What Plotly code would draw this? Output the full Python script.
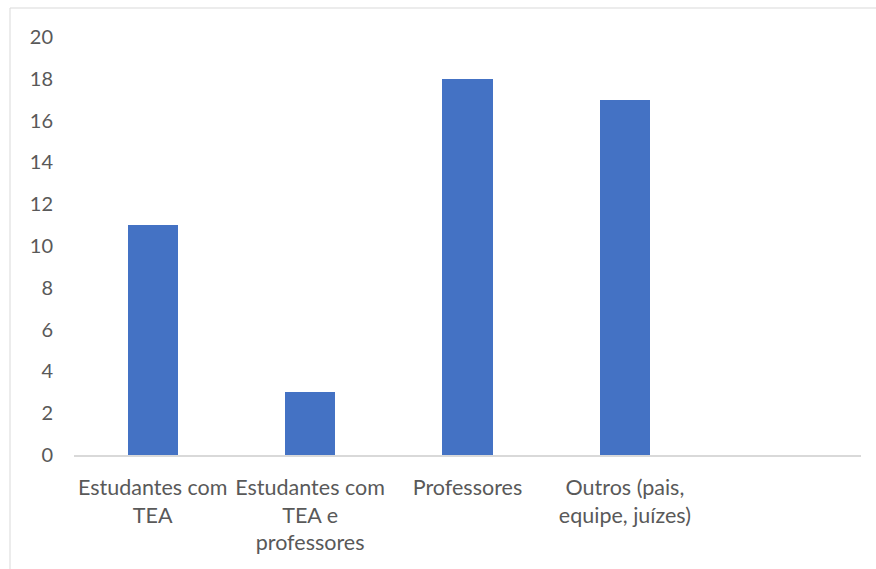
import plotly.graph_objects as go

categories = ["Estudantes com<br>TEA", "Estudantes com<br>TEA e<br>professores", "Professores", "Outros (pais,<br>equipe, juízes)"]
values = [11, 3, 18, 17]
y_ticks = [0, 2, 4, 6, 8, 10, 12, 14, 16, 18, 20]

W, H = 876, 569
L, R, T, B = 74, 15, 37, 114
pw, ph = W - L - R, H - T - B

fig = go.Figure(go.Bar(x=categories, y=values, marker=dict(color="#4472C4", line=dict(width=0)), width=0.32))

font = dict(family="Lato, Open Sans, sans-serif", size=20, color="#595959")
xfont = dict(family="Lato, Open Sans, sans-serif", size=21.5, color="#595959")
fig.update_layout(
    width=W, height=H,
    margin=dict(l=L, r=R, t=T, b=B),
    paper_bgcolor="white", plot_bgcolor="white",
    font=font, showlegend=False, bargap=0,
    xaxis=dict(type="category", range=[-0.5, 4.5], showgrid=False, showline=True,
               linecolor="#d9d9d9", linewidth=1.5, ticks="", ticklabelstandoff=12,
               tickfont=xfont, fixedrange=True),
    yaxis=dict(range=[0, 20], tickvals=y_ticks, showgrid=False, showline=False,
               zeroline=False, ticks="", ticklabelstandoff=20, tickfont=font, fixedrange=True),
    shapes=[dict(type="rect", xref="paper", yref="paper",
                 x0=(10 - L) / pw, x1=(W + 20 - L) / pw,
                 y0=-(H + 20 - T - ph) / ph, y1=(T + ph - 8) / ph,
                 line=dict(color="#d9d9d9", width=1), fillcolor="rgba(0,0,0,0)", layer="below")],
)
fig.write_html("out.html")
